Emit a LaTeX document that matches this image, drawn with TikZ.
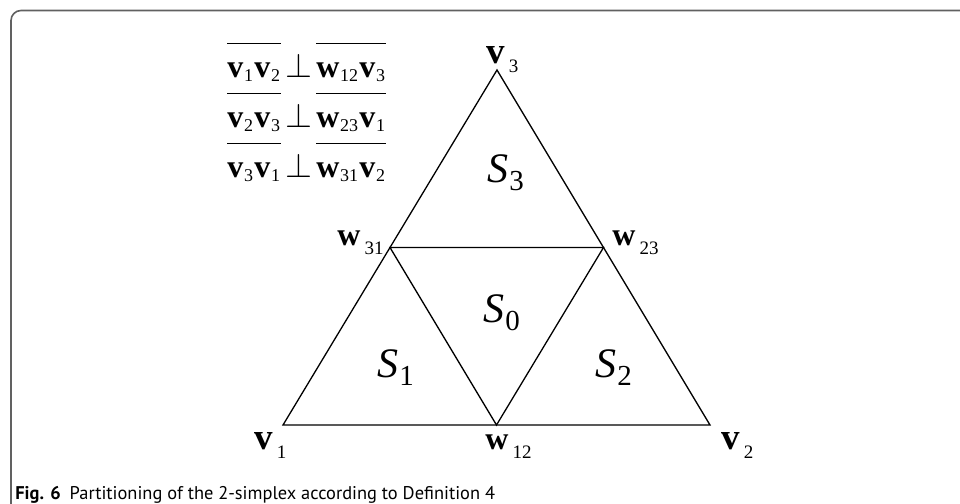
\documentclass[tikz,border=0pt]{standalone}
\usepackage{fontspec}
\setmainfont{Liberation Serif}
\newfontfamily\capfont{PT Sans}
\usetikzlibrary{positioning,calc}
\newcommand{\lo}[1]{\kern2pt\raisebox{-4.5pt}{\fontsize{9.5}{10}\selectfont\mdseries #1}}
\newcommand{\slo}[1]{\kern0.5pt\raisebox{-4pt}{\fontsize{14.5}{14.5}\selectfont\upshape #1}}
\newcommand{\bvec}[2]{\textbf{#1}\kern0.4pt\raisebox{-2pt}{\fontsize{9}{9}\selectfont #2}\kern0.6pt}
\newcommand{\seg}[2]{\overline{\mbox{\rule{0pt}{15.5pt}#1#2}}}
\tikzset{edge/.style={line width=0.65pt},
  frame/.style={line width=0.8pt,black!62,rounded corners=5pt},
  vlab/.style={anchor=base west,inner sep=0pt,font=\fontsize{18.5}{19}\selectfont\bfseries},
  wlab/.style={vlab,font=\fontsize{16}{17}\selectfont\bfseries},
  slab/.style={anchor=base west,inner sep=0pt,font=\fontsize{21}{22}\selectfont\itshape},
  rel/.style={anchor=base west,inner sep=0pt,font=\fontsize{16}{18}\selectfont}}

\begin{document}
\begin{tikzpicture}[x=0.5pt,y=-0.5pt]
\useasboundingbox (0,0) rectangle (960,504);
\draw[frame] (11,506) -- (11,10.5) -- (964,10.5);
% simplex and its midpoints
\coordinate (v1) at (283,425); \coordinate (v2) at (710,425); \coordinate (v3) at (497,70);
\coordinate (w12) at ($(v1)!0.5!(v2)$); \coordinate (w23) at ($(v2)!0.5!(v3)$);
\coordinate (w31) at ($(v3)!0.5!(v1)$);
\draw[edge] (v1) -- (v2) -- (v3) -- cycle;
\draw[edge] (w12) -- (w23) -- (w31) -- cycle;
\node[vlab] (lv1) at (254,449) {v\lo{1}};
\node[vlab] (lv2) at (721,449) {v\lo{2}};
\node[vlab] (lv3) at (486,63) {v\lo{3}};
\node[wlab] (lw12) at (485,449) {w\lo{12}};
\node[wlab] (lw31) at (337,245) {w\lo{31}};
\node[wlab] (lw23) at (612,245) {w\lo{23}};
\node[slab] (s3) at (487,182) {S\slo{3}};
\node[slab] (s0) at (483,322) {S\slo{0}};
\node[slab] (s1) at (377,377) {S\slo{1}};
\node[slab] (s2) at (595,377) {S\slo{2}};
% orthogonality relations
\node[rel] (r1) at (227,77) {$\seg{\bvec{v}{1}}{\bvec{v}{2}}\kern2pt\mathord{\perp}\kern2pt\seg{\bvec{w}{12}}{\bvec{v}{3}}$};
\node[rel] (r2) at (227,127) {$\seg{\bvec{v}{2}}{\bvec{v}{3}}\kern2pt\mathord{\perp}\kern2pt\seg{\bvec{w}{23}}{\bvec{v}{1}}$};
\node[rel] (r3) at (227,177) {$\seg{\bvec{v}{3}}{\bvec{v}{1}}\kern2pt\mathord{\perp}\kern2pt\seg{\bvec{w}{31}}{\bvec{v}{2}}$};
\node[anchor=base west,inner sep=0pt,font=\capfont\fontsize{9.2}{10}\selectfont] (cap) at (15,499)
  {\textbf{Fig. 6}\hspace{4.5pt}Partitioning of the 2-simplex according to Definition 4};
\end{tikzpicture}
\end{document}
